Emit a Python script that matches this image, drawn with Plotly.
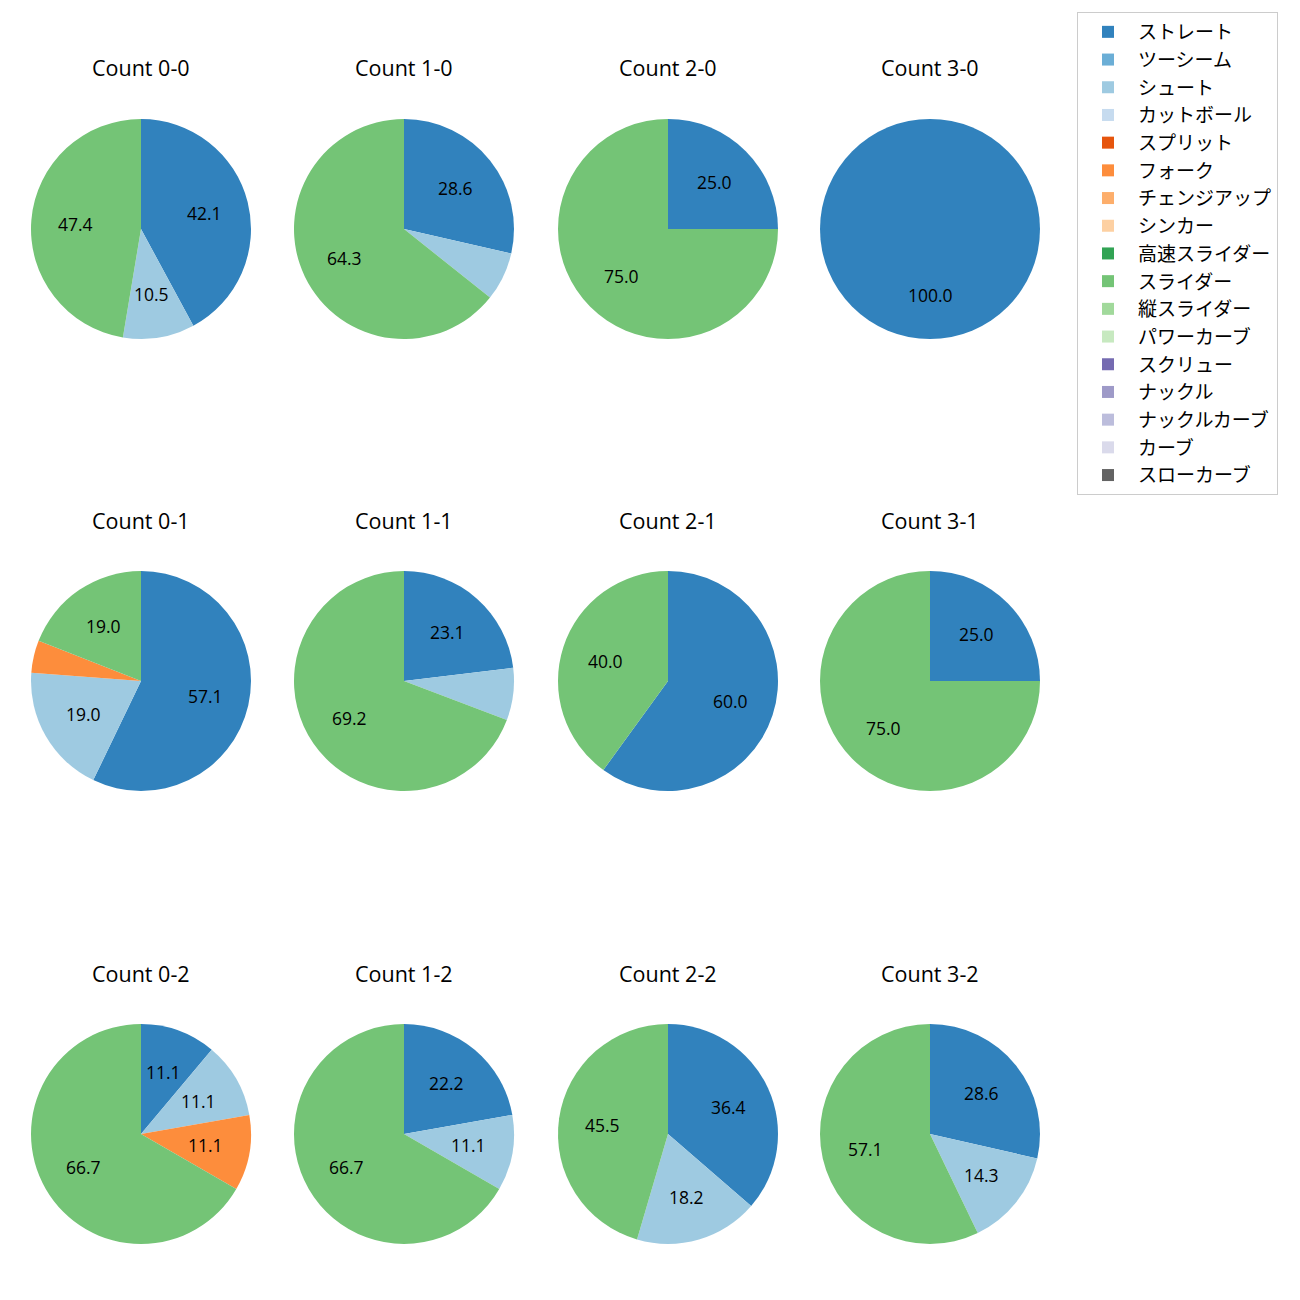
import math
import plotly.graph_objects as go

# ---- data ----
pitch_types = ["ストレート", "ツーシーム", "シュート", "カットボール", "スプリット", "フォーク",
               "チェンジアップ", "シンカー", "高速スライダー", "スライダー", "縦スライダー",
               "パワーカーブ", "スクリュー", "ナックル", "ナックルカーブ", "カーブ", "スローカーブ"]
colors = ["#3182bd", "#6baed6", "#9ecae1", "#c6dbef", "#e6550d", "#fd8d3c", "#fdae6b", "#fdd0a2",
          "#31a354", "#74c476", "#a1d99b", "#c7e9c0", "#756bb1", "#9e9ac8", "#bcbddc", "#dadaeb",
          "#636363"]
counts = ["0-0", "1-0", "2-0", "3-0", "0-1", "1-1", "2-1", "3-1", "0-2", "1-2", "2-2", "3-2"]
straight = [8, 4, 1, 1, 12, 3, 3, 1, 1, 2, 4, 2]
shoot    = [2, 1, 0, 0, 4, 1, 0, 0, 1, 1, 2, 1]
fork     = [0, 0, 0, 0, 1, 0, 0, 0, 1, 0, 0, 0]
slider   = [9, 9, 3, 0, 4, 9, 2, 3, 6, 6, 5, 4]

series = {"ストレート": straight, "シュート": shoot, "フォーク": fork, "スライダー": slider}

# ---- layout geometry (pixels) ----
W = H = 1300
col_cx = [141, 404, 668, 930]
row_cy = [229, 681, 1134]
R = 110
title_dy = 161
LATIN = "Open Sans, Noto Sans CJK JP"

fig = go.Figure()
annotations = []
for i, c in enumerate(counts):
    row, col = divmod(i, 4)
    cx, cy = col_cx[col], row_cy[row]
    vals = [series[p][i] if p in series else 0 for p in pitch_types]
    fig.add_trace(go.Pie(
        labels=pitch_types, values=vals, sort=False, direction="clockwise", rotation=0,
        marker=dict(colors=colors, line=dict(width=0)),
        textinfo="none", hoverinfo="label+percent",
        domain=dict(x=[(cx - R) / W, (cx + R) / W], y=[1 - (cy + R) / H, 1 - (cy - R) / H]),
        showlegend=(i == 0), name=f"Count {c}",
    ))
    total = sum(vals)
    cum = 0.0
    for v in vals:
        if v == 0:
            continue
        frac = v / total
        mid = cum + frac / 2
        cum += frac
        pct = 100 * frac
        if pct < 10:
            continue
        ang = math.radians(90 - 360 * mid)
        px = cx + 0.6 * R * math.cos(ang)
        py = cy - 0.6 * R * math.sin(ang)
        annotations.append(dict(x=px / W, y=1 - py / H, xref="paper", yref="paper",
                                text=f"{pct:.1f}", showarrow=False,
                                font=dict(size=17.5, color="black", family=LATIN),
                                xanchor="center", yanchor="middle"))
    annotations.append(dict(x=cx / W, y=1 - (cy - title_dy) / H, xref="paper", yref="paper",
                            text=f"Count {c}", showarrow=False,
                            font=dict(size=21.5, color="black", family=LATIN),
                            xanchor="center", yanchor="middle"))

fig.update_layout(
    width=W, height=H, margin=dict(l=0, r=0, t=0, b=0),
    paper_bgcolor="white", plot_bgcolor="white",
    font=dict(family=LATIN, size=14, color="black"),
    annotations=annotations,
    legend=dict(x=1077 / W, y=1 - 12 / H, xanchor="left", yanchor="top",
                bordercolor="#cccccc", borderwidth=1, bgcolor="white",
                itemwidth=50,
                font=dict(size=19, family="Noto Sans CJK JP"), traceorder="normal"),
)
fig.write_html("out.html", config={"displayModeBar": False},
               post_script="document.body.style.margin='0px';")
